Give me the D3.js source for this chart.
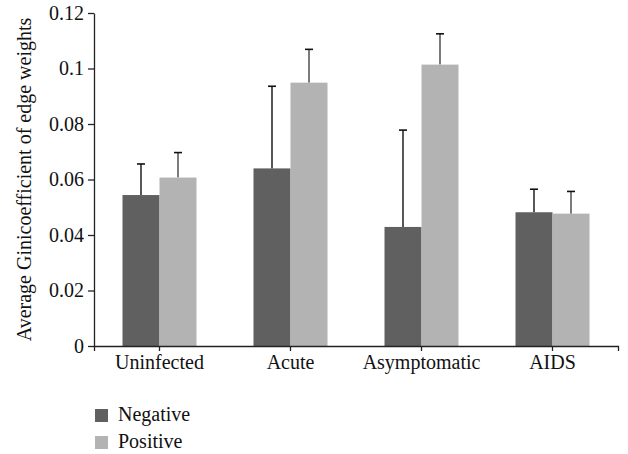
<!DOCTYPE html>
<style>
    body { margin: 0; background: #fff; }
    text { font-family: "Liberation Serif", "DejaVu Serif", serif; fill: #111; }
    .axis path, .axis line { stroke: #222; stroke-width: 1.3px; }
</style>
<svg width="628" height="454"></svg>
<script src="https://cdn.jsdelivr.net/npm/d3@7/dist/d3.min.js"></script>
<script>

    var categories = ["Uninfected", "Acute", "Asymptomatic", "AIDS"],
        series = ["Negative", "Positive"],
        negative = [0.0544, 0.0640, 0.0429, 0.0482],
        negativeErr = [0.0112, 0.0296, 0.0349, 0.0083],
        positive = [0.0607, 0.0949, 0.1014, 0.0477],
        positiveErr = [0.0090, 0.0120, 0.0111, 0.0080],
        yTicks = [0, 0.02, 0.04, 0.06, 0.08, 0.1, 0.12];

    var colors = ["#606060", "#b3b3b3"],
        errColors = ["#111", "#444"];

    var svg = d3.select("svg"),
        mLeft = 94, mRight = 618, mTop = 13, mBottom = 346;

    var x = d3.scaleBand().domain(categories).range([mLeft, mRight]),
        xs = d3.scaleBand().domain(series).range([0, 74]),
        y = d3.scaleLinear().domain([0, 0.12]).range([mBottom, mTop]);

    var rows = categories.map(function (c, i) {
        return [
            { cat: c, s: series[0], v: negative[i], e: negativeErr[i], k: 0 },
            { cat: c, s: series[1], v: positive[i], e: positiveErr[i], k: 1 }
        ];
    });

    var groups = svg.append("g").selectAll("g").data(rows).enter().append("g")
        .attr("transform", function (d) { return "translate(" + (x(d[0].cat) + x.bandwidth() / 2 - 37) + ",0)"; });

    var bars = groups.selectAll("g").data(function (d) { return d; }).enter().append("g");

    bars.append("line")
        .attr("x1", function (d) { return xs(d.s) + xs.bandwidth() / 2; })
        .attr("x2", function (d) { return xs(d.s) + xs.bandwidth() / 2; })
        .attr("y1", function (d) { return y(d.v); })
        .attr("y2", function (d) { return y(d.v + d.e); })
        .attr("stroke", function (d) { return errColors[d.k]; })
        .attr("stroke-width", 1.4);

    bars.append("line")
        .attr("x1", function (d) { return xs(d.s) + xs.bandwidth() / 2 - 4; })
        .attr("x2", function (d) { return xs(d.s) + xs.bandwidth() / 2 + 4; })
        .attr("y1", function (d) { return y(d.v + d.e); })
        .attr("y2", function (d) { return y(d.v + d.e); })
        .attr("stroke", "#111")
        .attr("stroke-width", 1.6);

    bars.append("rect")
        .attr("x", function (d) { return xs(d.s); })
        .attr("width", xs.bandwidth())
        .attr("y", function (d) { return y(d.v); })
        .attr("height", function (d) { return mBottom - y(d.v); })
        .attr("fill", function (d) { return colors[d.k]; });

    // axes
    var yAxis = svg.append("g").attr("class", "axis")
        .attr("transform", "translate(" + mLeft + ",0)")
        .call(d3.axisLeft(y).tickValues(yTicks).tickSize(6).tickSizeOuter(0)
            .tickFormat(function (d) { return d === 0 ? "0" : String(+d.toFixed(2)); }));
    yAxis.selectAll("text").attr("font-size", 20).attr("x", -10).attr("fill", "#111")
        .style("font-family", "Liberation Serif");

    var xAxis = svg.append("g").attr("class", "axis")
        .attr("transform", "translate(0," + mBottom + ")")
        .call(d3.axisBottom(x).tickSize(5).tickSizeOuter(5));
    xAxis.selectAll("text").attr("font-size", 20).attr("y", 9).attr("fill", "#111")
        .style("font-family", "Liberation Serif");
    svg.selectAll(".axis .domain").attr("fill", "none");

    svg.append("text")
        .attr("transform", "translate(31," + ((mTop + mBottom) / 2) + ") rotate(-90)")
        .attr("text-anchor", "middle")
        .attr("font-size", 20)
        .text("Average Ginicoefficient of edge weights");

    // legend
    var legend = svg.append("g").selectAll("g").data(series).enter().append("g")
        .attr("transform", function (d, i) { return "translate(95," + (409 + i * 27) + ")"; });
    legend.append("rect").attr("width", 13).attr("height", 13)
        .attr("fill", function (d, i) { return colors[i]; });
    legend.append("text").attr("x", 23).attr("y", 12).attr("font-size", 20)
        .text(function (d) { return d; });

</script>
